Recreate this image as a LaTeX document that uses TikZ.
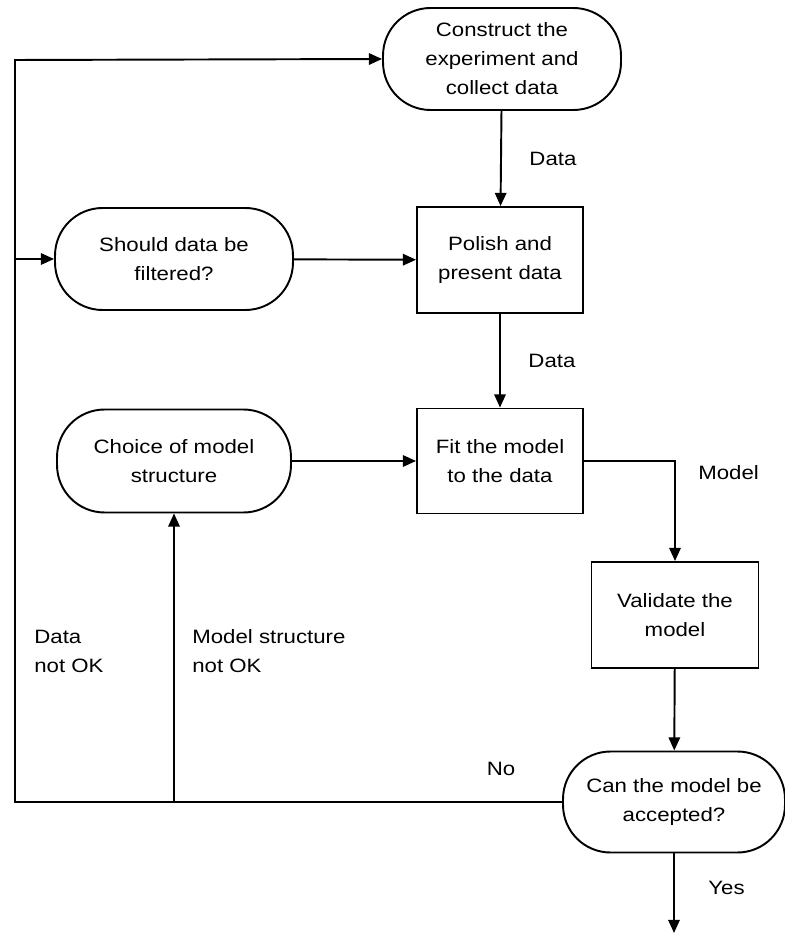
\documentclass[tikz,border=0pt]{standalone}
\usepackage{fontspec}
\setmainfont{Liberation Sans}[FakeStretch=1.15]
\usetikzlibrary{arrows.meta,positioning}

\begin{document}
\begin{tikzpicture}[x=0.02cm, y=-0.02cm,
  txt/.style={font=\fontsize{11}{16.5}\selectfont},
  term/.style={draw, line width=1.1pt, rounded corners=0.95cm, align=center, txt, minimum width=4.72cm, minimum height=2.04cm},
  task/.style={draw, line width=1.1pt, align=center, txt, minimum width=3.32cm, minimum height=2.12cm},
  note/.style={txt, align=left, anchor=west, inner sep=0pt},
  flow/.style={line width=1.1pt},
  >={Triangle[length=7.5pt,width=6.5pt]}]
  \useasboundingbox (0,0) rectangle (784,935);
  \node[term, minimum width=4.76cm] (construct) at (502,59) {Construct the\\experiment and\\collect data};
  \node[task] (polish) at (500,260) {Polish and\\present data};
  \node[term, minimum width=4.76cm] (filter) at (174,259) {Should data be\\filtered?};
  \node[task, minimum height=2.1cm] (fit) at (500,461) {Fit the model\\to the data};
  \node[term, minimum width=4.68cm, minimum height=2.06cm] (choice) at (174,461) {Choice of model\\structure};
  \node[task, minimum width=3.34cm] (validate) at (675,615) {Validate the\\model};
  \node[term, minimum width=4.44cm, minimum height=2.02cm] (accept) at (674,802) {Can the model be\\accepted?};
  % loop back corners and exit
  \coordinate (loopbot) at (15,802);
  \coordinate (looptop) at (15,60);
  \coordinate (done) at (674,933);
  \draw[flow,->] (construct) -- (polish) node[note, pos=0.5, xshift=0.55cm] {Data};
  \draw[flow,->] (polish) -- (fit) node[note, pos=0.5, xshift=0.55cm] {Data};
  \draw[flow,->] (filter) -- (polish);
  \draw[flow,->] (choice) -- (fit);
  \draw[flow,->] (fit.east) -| (validate.north);
  \draw[flow,->] (validate) -- (accept);
  \draw[flow,->] (accept) -- (done);
  \draw[flow,->] (accept.west) -- (loopbot) -- (looptop) -- (construct.west);
  \draw[flow,->] (filter.west -| loopbot) -- (filter.west);
  \draw[flow,->] (choice.south |- loopbot) -- (choice.south);
  \node[note] (lmodel) at (698,473) {Model};
  \node[note] (ldata) at (34,651) {Data\\not OK};
  \node[note] (lstruct) at (192,651) {Model structure\\not OK};
  \node[txt, inner sep=0pt] (lno) at (501,769) {No};
  \node[note] (lyes) at (708,888) {Yes};
\end{tikzpicture}
\end{document}
